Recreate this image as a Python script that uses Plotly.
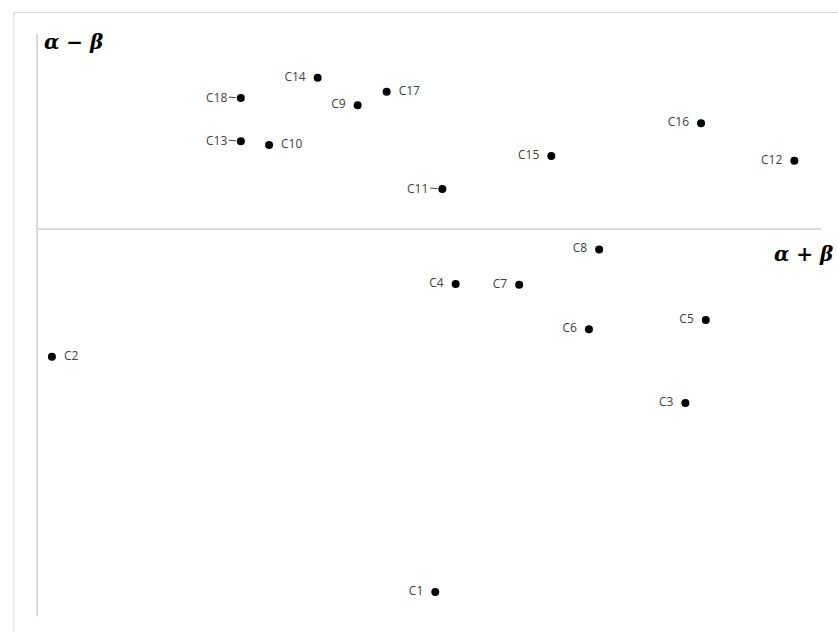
import plotly.graph_objects as go

# Data (arbitrary units; axes cross at 0,0)
labels = ["C1", "C2", "C3", "C4", "C5", "C6", "C7", "C8", "C9", "C10",
          "C11", "C12", "C13", "C14", "C15", "C16", "C17", "C18"]
x_vals = [5.08, 0.19, 8.27, 5.34, 8.53, 7.04, 6.15, 7.17, 4.09, 2.96,
          5.17, 9.66, 2.60, 3.58, 6.56, 8.47, 4.46, 2.60]
y_vals = [-4.63, -1.63, -2.22, -0.70, -1.16, -1.28, -0.71, -0.26, 1.58, 1.07,
          0.51, 0.87, 1.12, 1.93, 0.93, 1.35, 1.75, 1.67]
right_labels = ["C2", "C10", "C17"]
leader_labels = ["C11", "C13", "C18"]

x_axis_title = "α + β"
y_axis_title = "α − β"
x_max = 10.0
y_min, y_max = -4.94, 2.49

W, H = 838, 632
px_per_unit = 78.4
origin_px = (37, 229)

label_font = dict(family="Open Sans, Liberation Sans, sans-serif", size=12, color="#404040")

positions = ["middle right" if l in right_labels else "middle left" for l in labels]
texts = []
for l in labels:
    if l in leader_labels:
        texts.append("")
    elif l in right_labels:
        texts.append("\u2002" + l)
    else:
        texts.append(l + "\u2002")

fig = go.Figure()
fig.add_trace(go.Scatter(
    x=x_vals, y=y_vals, mode="markers+text",
    text=texts, textposition=positions,
    marker=dict(color="black", size=8),
    textfont=label_font,
    hoverinfo="text", hovertext=labels, showlegend=False,
    cliponaxis=False,
))

for l, xv, yv in zip(labels, x_vals, y_vals):
    if l in leader_labels:
        fig.add_annotation(
            x=xv, y=yv, xref="x", yref="y", text=l,
            showarrow=True, arrowhead=0, arrowwidth=1, arrowcolor="#404040",
            ax=-12, ay=-1, standoff=5, xanchor="right",
            font=label_font,
        )

# axes lines
fig.add_shape(type="line", x0=0, x1=0, y0=y_min, y1=y_max, xref="x", yref="y",
              line=dict(color="#d9d9d9", width=2))
fig.add_shape(type="line", x0=0, x1=x_max, y0=0, y1=0, xref="x", yref="y",
              line=dict(color="#d9d9d9", width=2))
# chart border (cropped)
fig.add_shape(type="rect", x0=14 / W, x1=1.2, y0=-0.2, y1=1 - 12.5 / H,
              xref="paper", yref="paper", line=dict(color="#d9d9d9", width=1))

title_font = dict(family="DejaVu Serif, Liberation Serif, serif", size=20, color="black")
fig.add_annotation(x=0.07, y=y_max - 0.1, xref="x", yref="y",
                   text="<b><i>" + y_axis_title + "</i></b>", showarrow=False,
                   xanchor="left", yanchor="middle", font=title_font)
fig.add_annotation(x=x_max + 0.18, y=-0.32, xref="x", yref="y",
                   text="<b><i>" + x_axis_title + "</i></b>", showarrow=False,
                   xanchor="right", yanchor="middle", font=title_font)

x_range = [-origin_px[0] / px_per_unit, (W - origin_px[0]) / px_per_unit]
y_range = [-(H - origin_px[1]) / px_per_unit, origin_px[1] / px_per_unit]

fig.update_layout(
    width=W, height=H, margin=dict(l=0, r=0, t=0, b=0),
    paper_bgcolor="white", plot_bgcolor="white",
    xaxis=dict(range=x_range, visible=False, fixedrange=True),
    yaxis=dict(range=y_range, visible=False, fixedrange=True),
)

fig.write_html("out.html")
